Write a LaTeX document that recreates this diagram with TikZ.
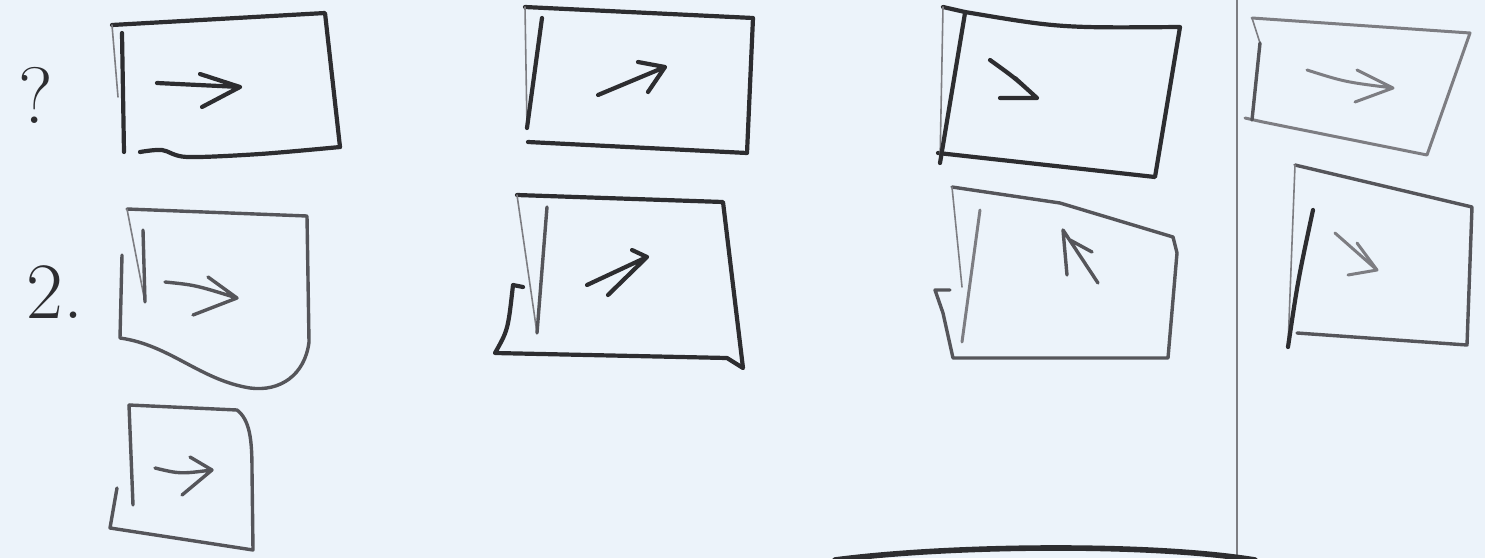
\documentclass[tikz,border=0pt]{standalone}
\usepackage{xcolor}
\usepackage{tikz}
\usetikzlibrary{positioning}

\definecolor{paper}{RGB}{236,243,250}
\definecolor{graphite}{RGB}{45,45,48}
\definecolor{softlead}{RGB}{85,85,90}
\definecolor{palelead}{RGB}{125,125,130}

\begin{document}
\begin{tikzpicture}[
      x=0.5pt, y=-0.5pt, line cap=round, line join=round,
      ink/.style={draw=graphite, line width=2.1pt},
      mid/.style={draw=softlead, line width=1.7pt},
      pale/.style={draw=palelead, line width=1.5pt},
      thin/.style={draw=palelead, line width=0.8pt},
      lbl/.style={font=\fontsize{40}{40}\selectfont, text=graphite, inner sep=0pt}
    ]
    \useasboundingbox[fill=paper] (0,0) rectangle (1485,558);

    % row labels
    \node[lbl] (q1) at (36,95) {?};
    \node[lbl] (q2) at (55,292) {2.};

    % column 1
    \draw[ink] (112,25) -- (325,13) -- (340,147);
    \draw[ink] plot[smooth] coordinates {(340,147) (260,154) (187,157) (162,150) (140,152)};
    \draw[thin] (112,25) -- (118,97);
    \draw[ink] (122,33) -- (124,152);
    \draw[ink] (157,83) -- (240,87) (200,74) -- (240,87) -- (202,107);

    \draw[mid] (127,209) -- (307,216) -- (309,342) .. controls (305,375) and (280,392) .. (250,388)
      .. controls (200,380) and (170,345) .. (120,338) -- (122,255);
    \draw[thin] (127,209) -- (145,302);
    \draw[mid] (143,230) -- (145,302);
    \draw[mid] (165,282) .. controls (195,285) .. (237,298) (208,277) -- (237,298) -- (193,315);

    \draw[mid] (129,405) -- (237,410) .. controls (250,420) and (252,440) .. (252,470) -- (253,550)
      -- (110,528) -- (117,488);
    \draw[mid] (129,405) -- (133,505);
    \draw[mid] (155,468) .. controls (180,474) .. (212,470) (190,457) -- (212,470) -- (182,495);

    % column 2
    \draw[ink] (525,7) -- (753,18) -- (747,153) -- (528,142);
    \draw[thin] (525,7) -- (527,128);
    \draw[ink] (542,18) -- (527,128);
    \draw[ink] (598,95) -- (665,67) (638,62) -- (665,67) -- (648,92);

    \draw[ink] (517,195) -- (723,202) -- (743,368) -- (727,358) -- (495,353)
      .. controls (508,330) .. (513,285) -- (523,287);
    \draw[thin] (517,195) -- (537,333);
    \draw[mid] (547,207) -- (537,333);
    \draw[ink] (587,285) -- (647,257) (632,250) -- (647,257) -- (608,295);

    % column 3
    \draw[ink] (943,7) -- (965,12) .. controls (1060,28) .. (1180,27) -- (1155,177) -- (938,153);
    \draw[thin] (943,7) -- (940,163);
    \draw[ink] (965,13) -- (940,163);
    \draw[ink] (990,60) .. controls (1015,78) .. (1037,98) -- (1000,98) (1015,78) -- (1037,98);

    \draw[mid] (952,187) -- (1060,203) -- (1173,237) -- (1177,253) -- (1168,358) -- (953,358)
      -- (943,313) -- (935,290) -- (950,290);
    \draw[thin] (952,187) -- (962,287);
    \draw[pale] (980,210) -- (962,342);
    \draw[mid] (1067,275) -- (1063,230) -- (1098,283) (1070,240) -- (1092,252);

    % separator
    \draw[thin] (1237,0) -- (1237,558);

    % column 4
    \draw[pale] (1252,18) -- (1470,33) -- (1427,155) -- (1263,122) -- (1245,118);
    \draw[thin] (1252,18) -- (1260,43);
    \draw[mid] (1260,43) -- (1252,120);
    \draw[pale] (1307,70) .. controls (1345,82) .. (1393,88) (1357,70) -- (1393,88) -- (1355,102);

    \draw[mid] (1295,165) -- (1472,207) -- (1467,345) -- (1297,333);
    \draw[thin] (1295,165) -- (1288,347);
    \draw[ink] (1313,210) .. controls (1298,280) .. (1288,347);
    \draw[pale] (1335,233) -- (1377,270) (1357,243) -- (1377,270) -- (1348,275);

    % bottom stroke
    \draw[ink, line width=2.8pt] (835,560) .. controls (950,545) and (1150,543) .. (1255,560);
  \end{tikzpicture}
\end{document}
